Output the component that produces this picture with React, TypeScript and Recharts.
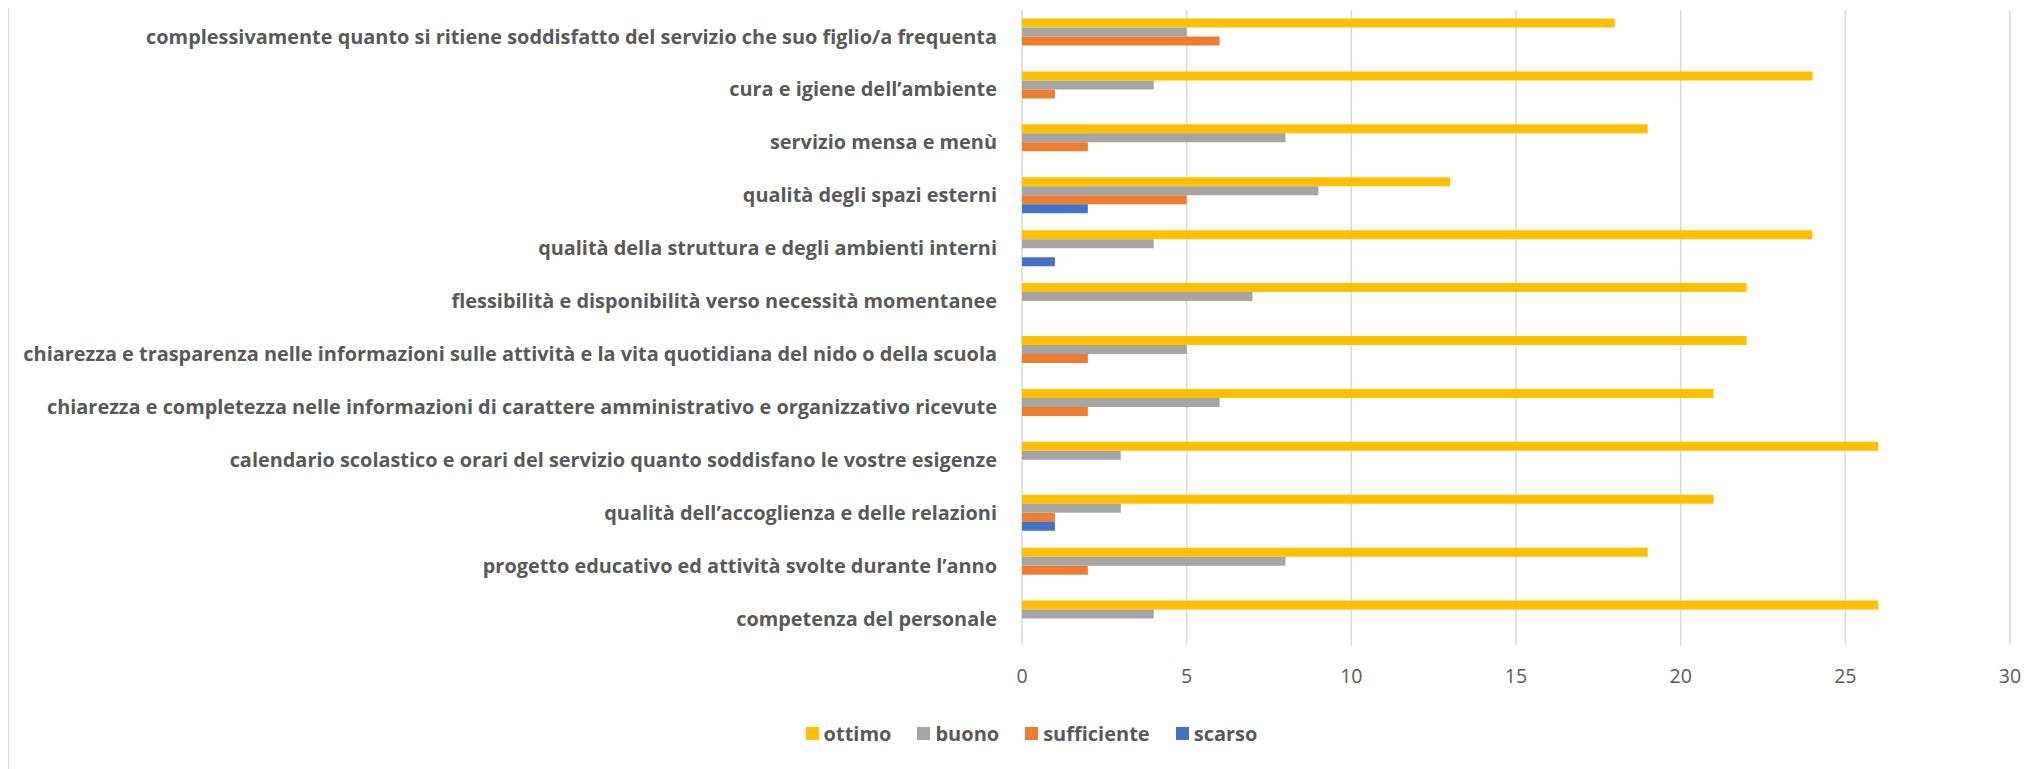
import { Bar, BarChart, CartesianGrid, Legend, XAxis, YAxis } from 'recharts';

const categories = [
  'complessivamente quanto si ritiene soddisfatto del servizio che suo figlio/a frequenta',
  'cura e igiene dell’ambiente',
  'servizio mensa e menù',
  'qualità degli spazi esterni',
  'qualità della struttura e degli ambienti interni',
  'flessibilità e disponibilità verso necessità momentanee',
  'chiarezza e trasparenza nelle informazioni sulle attività e la vita quotidiana del nido o della scuola',
  'chiarezza e completezza nelle informazioni di carattere amministrativo e organizzativo ricevute',
  'calendario scolastico e orari del servizio quanto soddisfano le vostre esigenze',
  'qualità dell’accoglienza e delle relazioni',
  'progetto educativo ed attività svolte durante l’anno',
  'competenza del personale',
];

const ottimo = [18, 24, 19, 13, 24, 22, 22, 21, 26, 21, 19, 26];
const buono = [5, 4, 8, 9, 4, 7, 5, 6, 3, 3, 8, 4];
const sufficiente = [6, 1, 2, 5, 0, 0, 2, 2, 0, 1, 2, 0];
const scarso = [0, 0, 0, 2, 1, 0, 0, 0, 0, 1, 0, 0];

const xTicks = [0, 5, 10, 15, 20, 25, 30];

const series = [
  { key: 'ottimo', color: '#FFC000' },
  { key: 'buono', color: '#A5A5A5' },
  { key: 'sufficiente', color: '#ED7D31' },
  { key: 'scarso', color: '#4472C4' },
];

const data = categories.map((name, i) => ({
  name,
  ottimo: ottimo[i],
  buono: buono[i],
  sufficiente: sufficiente[i],
  scarso: scarso[i],
}));

const font = '"Open Sans", sans-serif';

function LegendContent() {
  return (
    <div style={{ display: 'flex', justifyContent: 'center', gap: 26, fontFamily: font, fontWeight: 700, fontSize: 20, color: '#595959', paddingLeft: 44 }}>
      {series.map((s) => (
        <div key={s.key} style={{ display: 'flex', alignItems: 'center', gap: 5 }}>
          <span style={{ width: 13, height: 13, background: s.color, display: 'inline-block' }} />
          <span>{s.key}</span>
        </div>
      ))}
    </div>
  );
}

export default function App() {
  return (
    <div style={{ width: 2028, height: 761, borderLeft: '1px solid #D9D9D9', boxSizing: 'border-box' }}>
      <BarChart
        width={2027}
        height={761}
        data={data}
        layout="vertical"
        margin={{ top: 2, right: 26, left: 0, bottom: 22 }}
        barCategoryGap="16%"
        barGap={0}
      >
        <CartesianGrid horizontal={false} stroke="#D9D9D9" strokeWidth={1.5} />
        <XAxis
          type="number"
          domain={[0, 30]}
          ticks={xTicks}
          axisLine={false}
          tickLine={false}
          tickMargin={18}
          height={75}
          tick={{ fill: '#595959', fontSize: 19.5, fontFamily: font }}
        />
        <YAxis
          type="category"
          dataKey="name"
          width={1013}
          axisLine={false}
          tickLine={false}
          tickMargin={19}
          interval={0}
          tick={{ fill: '#595959', fontSize: 19.9, fontFamily: font, fontWeight: 700 }}
        />
        <Legend verticalAlign="bottom" content={<LegendContent />} />
        {series.map((s) => (
          <Bar key={s.key} dataKey={s.key} fill={s.color} isAnimationActive={false} />
        ))}
      </BarChart>
    </div>
  );
}
